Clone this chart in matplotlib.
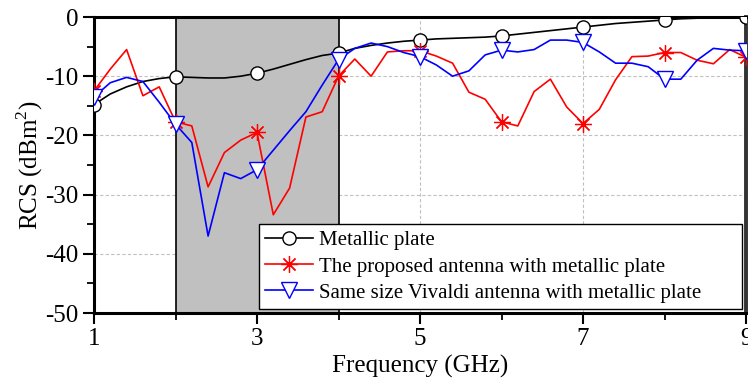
import numpy as np
import matplotlib
matplotlib.use("Agg")
import matplotlib.pyplot as plt
from matplotlib.ticker import FixedLocator, MultipleLocator

plt.rcParams['font.family'] = ['Liberation Serif', 'DejaVu Serif']
plt.rcParams['mathtext.fontset'] = 'custom'
plt.rcParams['mathtext.rm'] = 'Liberation Serif'
plt.rcParams['axes.unicode_minus'] = False

# frequency samples (GHz), 0.2 GHz step
freq = np.linspace(1, 9, 41)

metal = [-14.8, -13.0, -11.8, -10.9, -10.4, -10.1, -10.2, -10.3, -10.3, -10.0,
         -9.5, -8.8, -8.0, -7.2, -6.5, -6.1, -5.3, -4.8, -4.4, -4.1,
         -3.9, -3.7, -3.6, -3.5, -3.4, -3.2, -2.9, -2.6, -2.3, -2.0,
         -1.7, -1.4, -1.1, -0.9, -0.7, -0.5, -0.3, -0.2, -0.1, 0.0, 0.0]

proposed = [-12.5, -8.8, -5.5, -13.3, -11.8, -17.7, -18.4, -28.7, -22.9, -20.8,
            -19.5, -33.4, -28.9, -16.9, -16.0, -10.0, -7.1, -10.0, -5.9, -5.7,
            -5.7, -6.6, -7.8, -12.7, -13.9, -17.7, -18.4, -12.6, -10.5, -15.2,
            -18.0, -15.6, -10.6, -6.7, -6.6, -6.0, -6.0, -7.3, -7.9, -5.5, -6.8]

vivaldi = [-13.5, -11.1, -10.2, -10.9, -14.4, -18.1, -21.2, -37.0, -26.3, -27.3,
           -25.8, -22.5, -19.2, -16.0, -11.5, -7.2, -5.3, -4.4, -5.0, -6.0,
           -6.7, -8.1, -10.0, -9.1, -6.4, -5.6, -5.9, -5.5, -3.9, -3.9,
           -4.3, -5.9, -7.8, -7.8, -8.4, -10.5, -10.5, -7.3, -5.3, -5.6, -5.7]

labels = ["Metallic plate",
          "The proposed antenna with metallic plate",
          "Same size Vivaldi antenna with metallic plate"]

xticks = [1, 3, 5, 7, 9]
xminor = [2, 4, 6, 8]
band = (2, 4)

fig = plt.figure(figsize=(7.48, 3.81), dpi=100)
ax = fig.add_axes([94 / 748, 1 - 313 / 381, 652 / 748, 296 / 381])

# grey band with black edges
ax.axvspan(band[0], band[1], facecolor='#c0c0c0', edgecolor='black',
           linewidth=1.2, zorder=1)

ax.plot(freq, metal, color='black', lw=1.2, marker='o', markevery=5,
        ms=9.5, mfc='white', mec='black', mew=1.0, label=labels[0], zorder=3)
ax.plot(freq, proposed, color='#ff0000', lw=1.2, marker=(8, 2, 0), markevery=5,
        ms=12, mec='#ff0000', mew=0.9, label=labels[1], zorder=4)
ax.plot(freq, vivaldi, color='#0000ff', lw=1.2, marker='v', markevery=5,
        ms=12, mfc='white', mec='#0000ff', mew=1.0, label=labels[2], zorder=5)

ax.set_xlim(1, 9)
ax.set_ylim(-50, 0)
ax.xaxis.set_major_locator(FixedLocator(xticks))
ax.xaxis.set_minor_locator(FixedLocator(xminor))
ax.yaxis.set_major_locator(MultipleLocator(10))
ax.yaxis.set_minor_locator(MultipleLocator(5))

ax.grid(True, which='major', color='#c0c0c0', linestyle=(0, (3, 2)),
        linewidth=0.8, zorder=0)
ax.set_axisbelow(True)

ax.tick_params(axis='both', which='major', direction='out', length=8, width=1.5,
               labelsize=18, pad=3)
ax.tick_params(axis='both', which='minor', direction='out', length=5, width=1.3)
ax.tick_params(top=False, right=False)

for side in ['left', 'bottom', 'top']:
    ax.spines[side].set_linewidth(2.2)
    ax.spines[side].set_color('black')
ax.spines['right'].set_linewidth(2.8)
ax.spines['right'].set_color('#333333')

ax.set_xlabel("Frequency (GHz)", fontsize=18, labelpad=3)
ax.set_ylabel("RCS (dBm$^\\mathrm{2}$)", fontsize=18, labelpad=0)

leg = ax.legend(loc='lower left', bbox_to_anchor=(0.253, 0.0135, 0.741, 0.3),
                mode='expand', borderaxespad=0,
                fontsize=15, frameon=True, fancybox=False, framealpha=1,
                edgecolor='black', handlelength=2.3, handletextpad=0.3,
                labelspacing=0.32, borderpad=0.3)
leg.get_frame().set_linewidth(1.0)
leg.set_zorder(10)

fig.savefig("out.png", dpi=100)
